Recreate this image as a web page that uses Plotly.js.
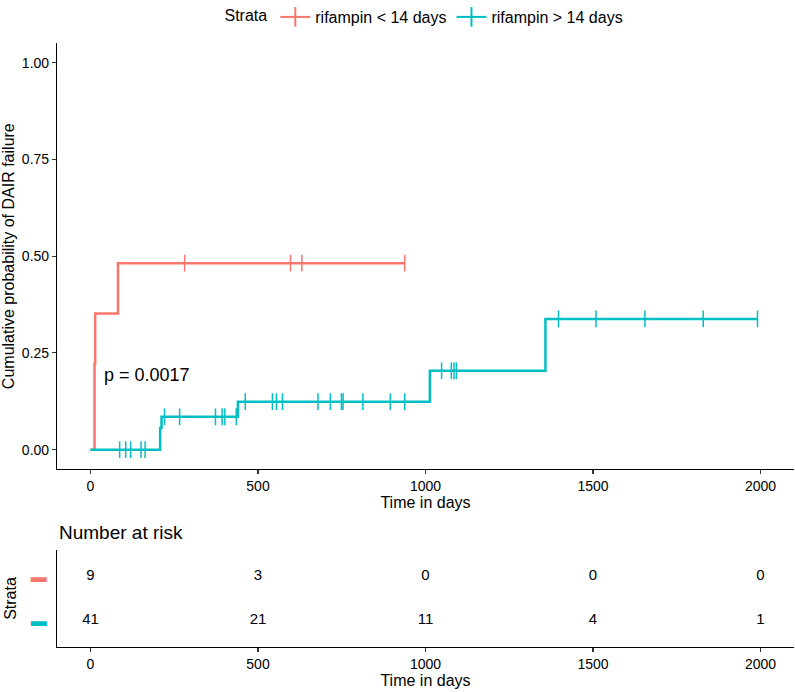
<!DOCTYPE html>
<html>
<head>
<meta charset="utf-8">
<script src="https://cdn.plot.ly/plotly-3.0.1.min.js"></script>
<style>html,body{margin:0;padding:0;background:#fff}#chart{width:795px;height:692px}</style>
</head>
<body>
<div id="chart"></div>
<script>
// ---- data ----
const strata = ['rifampin < 14 days', 'rifampin > 14 days'];
const colors = ['#F8766D', '#00BFC4'];

// step curve (cumulative event probability) - group 1
const ltTimes = [0, 12, 14, 82, 938];
const ltEvent = [0, 0.222, 0.352, 0.482, 0.482];
const ltCensor = [281, 597, 631, 938];

// group 2
const gtTimes = [0, 208, 212, 440, 1013, 1358, 1991];
const gtEvent = [0, 0.056, 0.085, 0.124, 0.204, 0.338, 0.338];
const gtCensor = [87, 105, 120, 151, 163,
                  221, 266, 373, 393, 401, 435,
                  462, 543, 555, 573, 679, 716, 749, 754, 813, 895, 938,
                  1048, 1077, 1085, 1092,
                  1397, 1509, 1655, 1829, 1991];

const riskTimes = [0, 500, 1000, 1500, 2000];
const ltRisk = [9, 3, 0, 0, 0];
const gtRisk = [41, 21, 11, 4, 1];

const xTicks = [0, 500, 1000, 1500, 2000];
const yTicks = [0, 0.25, 0.5, 0.75, 1.0];
const pText = 'p = 0.0017';

// ---- helpers ----
function levelAt(times, vals, t) {
  let v = vals[0];
  for (let i = 0; i < times.length; i++) { if (times[i] <= t) v = vals[i]; }
  return v;
}

const FONT = 'Liberation Sans, Arial, sans-serif';
const lineW = 2.5;
const traces = [];

function addGroup(times, vals, cens, color, name) {
  traces.push({x: times, y: vals, type: 'scatter', mode: 'lines', line: {shape: 'hv', color: color, width: lineW},
               showlegend: false, hoverinfo: 'skip', xaxis: 'x', yaxis: 'y'});
  traces.push({x: cens, y: cens.map(t => levelAt(times, vals, t)), type: 'scatter', mode: 'markers',
               marker: {symbol: 'line-ns', size: 12, color: color, line: {width: 1.5, color: color}},
               showlegend: false, hoverinfo: 'skip', xaxis: 'x', yaxis: 'y'});
  // legend proxy (+ symbol)
  traces.push({x: [null], y: [null], type: 'scatter', mode: 'lines+markers', name: name,
               line: {color: color, width: 2},
               marker: {symbol: 'line-ns', size: 14, color: color, line: {width: 2, color: color}},
               xaxis: 'x', yaxis: 'y'});
}
addGroup(ltTimes, ltEvent, ltCensor, colors[0], strata[0]);
addGroup(gtTimes, gtEvent, gtCensor, colors[1], strata[1]);

// risk table
traces.push({x: riskTimes, y: riskTimes.map(() => strata[0]), text: ltRisk.map(String), type: 'scatter', mode: 'text',
             textfont: {family: FONT, size: 15, color: '#000'}, showlegend: false, hoverinfo: 'skip', xaxis: 'x2', yaxis: 'y2'});
traces.push({x: riskTimes, y: riskTimes.map(() => strata[1]), text: gtRisk.map(String), type: 'scatter', mode: 'text',
             textfont: {family: FONT, size: 15, color: '#000'}, showlegend: false, hoverinfo: 'skip', xaxis: 'x2', yaxis: 'y2'});

const H = 692;
const axCommon = {showline: true, linecolor: '#000', linewidth: 1.1, ticks: 'outside', ticklen: 4, tickwidth: 1.1,
                  tickcolor: '#333', showgrid: false, zeroline: false, tickfont: {family: FONT, size: 14, color: '#000'}};

const layout = {
  width: 795, height: H,
  margin: {l: 57, r: 1, t: 0, b: 0},
  paper_bgcolor: '#fff', plot_bgcolor: '#fff',
  font: {family: FONT, color: '#000'},
  showlegend: true,
  legend: {orientation: 'h', x: 0.5, xanchor: 'center', y: 1, yanchor: 'top',
           font: {family: FONT, size: 16, color: '#000'},
           title: {text: 'Strata', side: 'left', font: {family: FONT, size: 16, color: '#000'}},
           itemwidth: 30, bgcolor: 'rgba(0,0,0,0)'},
  xaxis: Object.assign({}, axCommon, {range: [-100, 2100], tickmode: 'array', tickvals: xTicks, ticktext: xTicks.map(String),
          anchor: 'y', title: {text: 'Time in days', font: {family: FONT, size: 16, color: '#000'}, standoff: 2}}),
  yaxis: Object.assign({}, axCommon, {range: [-0.05, 1.05], domain: [1 - 469/H, 1 - 43.4/H], tickmode: 'array',
          tickvals: yTicks, ticktext: yTicks.map(v => v.toFixed(2)), anchor: 'x',
          title: {text: 'Cumulative probability of DAIR failure', font: {family: FONT, size: 16, color: '#000'}, standoff: 3}}),
  xaxis2: Object.assign({}, axCommon, {range: [-100, 2100], tickmode: 'array', tickvals: xTicks, ticktext: xTicks.map(String),
          anchor: 'y2', title: {text: 'Time in days', font: {family: FONT, size: 16, color: '#000'}, standoff: 1}}),
  yaxis2: Object.assign({}, axCommon, {type: 'category', categoryorder: 'array', categoryarray: [strata[1], strata[0]],
          range: [-0.6, 1.6], domain: [1 - 647/H, 1 - 550/H], anchor: 'x2', ticks: '', ticklabelstandoff: 6,
          tickmode: 'array', tickvals: [strata[0], strata[1]],
          ticktext: ['<span style="color:' + colors[0] + '"><b>▬</b></span>', '<span style="color:' + colors[1] + '"><b>▬</b></span>'],
          tickfont: {family: FONT, size: 16},
          title: {text: 'Strata', font: {family: FONT, size: 16, color: '#000'}, standoff: 10}}),
  annotations: [
    {xref: 'x', yref: 'y', x: 35, y: 0.193, xanchor: 'left', yanchor: 'middle', showarrow: false, text: pText,
     font: {family: FONT, size: 18, color: '#000'}},
    {xref: 'paper', yref: 'paper', x: 0, y: 1 - 532/H, xanchor: 'left', yanchor: 'middle', showarrow: false,
     text: 'Number at risk', font: {family: FONT, size: 19, color: '#000'}}
  ]
};

Plotly.newPlot('chart', traces, layout, {displayModeBar: false, staticPlot: true});
</script>
</body>
</html>
